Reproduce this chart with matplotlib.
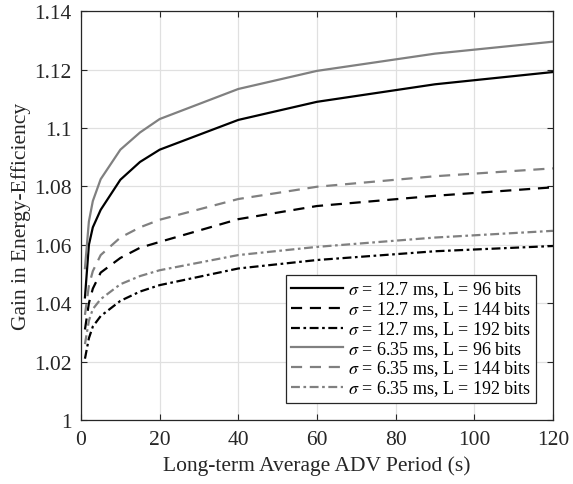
import matplotlib.pyplot as plt

plt.rcParams['font.family'] = ['Liberation Serif', 'DejaVu Serif']
plt.rcParams['mathtext.fontset'] = 'stix'

# 横轴：长期平均 ADV 周期 (s)
period = [1, 2, 3, 5, 10, 15, 20, 40, 60, 90, 120]

# 各参数组合下的能效增益
gain_127_96 = [1.042, 1.060, 1.066, 1.072, 1.0823, 1.0884, 1.0926, 1.1028, 1.109, 1.115, 1.1192]
gain_127_144 = [1.031, 1.040, 1.045, 1.0505, 1.0555, 1.059, 1.061, 1.0688, 1.0733, 1.0768, 1.0797]
gain_127_192 = [1.021, 1.028, 1.032, 1.0356, 1.0408, 1.044, 1.0462, 1.0519, 1.0548, 1.0578, 1.0596]
gain_635_96 = [1.052, 1.068, 1.075, 1.0825, 1.0926, 1.0985, 1.1031, 1.1134, 1.1196, 1.1255, 1.1296]
gain_635_144 = [1.036, 1.046, 1.051, 1.0565, 1.0625, 1.066, 1.0686, 1.0757, 1.0799, 1.0835, 1.0862]
gain_635_192 = [1.026, 1.034, 1.038, 1.0414, 1.0465, 1.0493, 1.0513, 1.0565, 1.0593, 1.0625, 1.0648]

labels = [r'$\sigma$ = 12.7 ms, L = 96 bits',
          r'$\sigma$ = 12.7 ms, L = 144 bits',
          r'$\sigma$ = 12.7 ms, L = 192 bits',
          r'$\sigma$ = 6.35 ms, L = 96 bits',
          r'$\sigma$ = 6.35 ms, L = 144 bits',
          r'$\sigma$ = 6.35 ms, L = 192 bits']

fig = plt.figure(figsize=(5.73, 4.85), dpi=100)
ax = fig.add_axes([0.1414, 0.132, 0.8236, 0.8426])

dash = (0, (5, 3.5))
dashdot = (0, (4, 1.6, 1.2, 1.6))
black = 'black'
gray = '#808080'

ax.plot(period, gain_127_96, color=black, lw=1.6, ls='-', label=labels[0])
ax.plot(period, gain_127_144, color=black, lw=1.6, ls=dash, label=labels[1])
ax.plot(period, gain_127_192, color=black, lw=1.6, ls=dashdot, label=labels[2])
ax.plot(period, gain_635_96, color=gray, lw=1.6, ls='-', label=labels[3])
ax.plot(period, gain_635_144, color=gray, lw=1.6, ls=dash, label=labels[4])
ax.plot(period, gain_635_192, color=gray, lw=1.6, ls=dashdot, label=labels[5])

ax.set_xlim(0, 120)
ax.set_ylim(1, 1.14)
ax.set_xticks(range(0, 121, 20))
ax.set_yticks([1, 1.02, 1.04, 1.06, 1.08, 1.1, 1.12, 1.14])
ax.set_yticklabels(['1', '1.02', '1.04', '1.06', '1.08', '1.1', '1.12', '1.14'])
ax.grid(True, color='#e0e0e0', lw=0.9)
ax.set_axisbelow(True)
ax.tick_params(direction='in', top=True, right=True, length=4, width=0.8,
               color='#262626', labelsize=15.5, labelcolor='#262626', pad=7)
for s in ax.spines.values():
    s.set_color('#262626')
    s.set_linewidth(0.9)

ax.set_xlabel('Long-term Average ADV Period (s)', fontsize=15.5, color='#262626', labelpad=5)
ax.set_ylabel('Gain in Energy-Efficiency', fontsize=15.5, color='#262626', labelpad=2)

leg = ax.legend(loc='lower right', bbox_to_anchor=(0.964, 0.042), fontsize=13,
                handlelength=2.9, handletextpad=0.3, borderpad=0.25, labelspacing=0.0,
                fancybox=False, framealpha=1, edgecolor='#262626', borderaxespad=0)
leg.get_frame().set_linewidth(0.9)

fig.savefig('out.png', dpi=100)
